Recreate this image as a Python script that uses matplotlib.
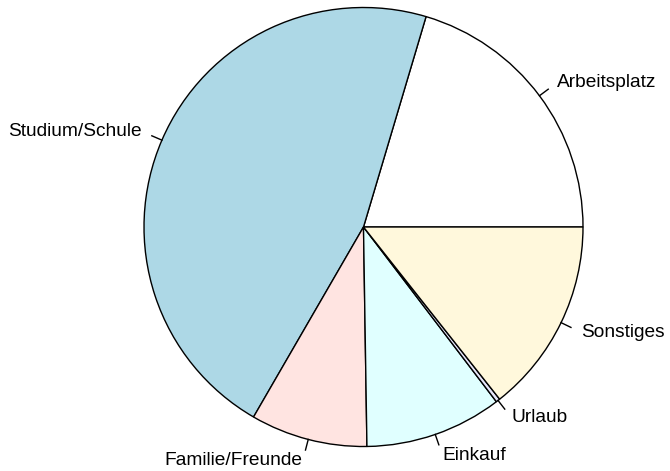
import numpy as np
import matplotlib.pyplot as plt

labels = ['Arbeitsplatz', 'Studium/Schule', 'Familie/Freunde', 'Einkauf', 'Urlaub', 'Sonstiges']
values = [20.4, 46.25, 8.6, 10.1, 0.3, 14.35]
colors = ['white', 'lightblue', 'mistyrose', 'lightcyan', 'lavender', 'cornsilk']

plt.rcParams['font.family'] = ['Liberation Sans', 'DejaVu Sans']

fig = plt.figure(figsize=(6.7, 4.71), dpi=100)
ax = fig.add_axes([0, 0, 1, 1])

cx, cy, r = 363.5, 244.0, 219.5
wedges, texts = ax.pie(values, labels=labels, colors=colors, startangle=0,
                       counterclock=True, center=(cx, cy), radius=r,
                       labeldistance=1.1,
                       wedgeprops=dict(edgecolor='black', linewidth=1.0),
                       textprops=dict(fontsize=13.8, color='black'))

# small tick marks from the rim toward each label, R-style alignment
fr = np.cumsum([0] + values) / sum(values)
for i in range(len(values)):
    a = np.pi * (fr[i] + fr[i + 1])
    ax.plot([cx + r * np.cos(a), cx + 1.05 * r * np.cos(a)],
            [cy + r * np.sin(a), cy + 1.05 * r * np.sin(a)],
            color='black', lw=1.0)
    texts[i].set_ha('left' if np.cos(a) > 0 else 'right')
    texts[i].set_va('center')

ax.set_xlim(0, 670)
ax.set_ylim(0, 471)
ax.set_aspect('equal')
ax.axis('off')

fig.savefig('out.png', dpi=100)
